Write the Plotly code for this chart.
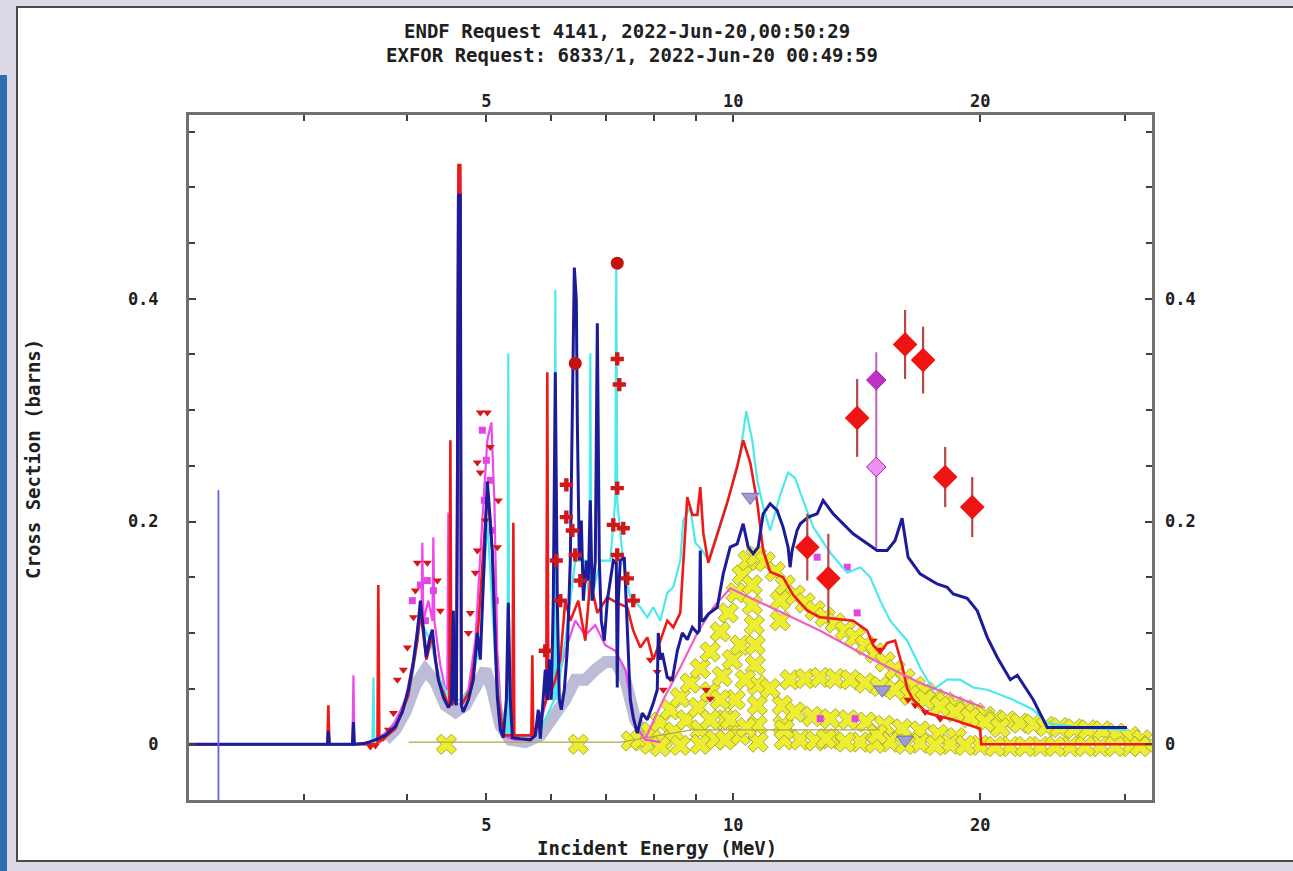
import math
import plotly.graph_objects as go

# ---------------- data (energy in MeV, cross section in barns) ----------------
NAVY_E = [2.17, 2.97, 3.200, 3.209, 3.218, 3.433, 3.443, 3.452, 3.560, 3.662, 3.766, 3.873, 3.950, 4.017,
          4.074, 4.120, 4.155, 4.190, 4.225, 4.261, 4.297, 4.333, 4.370, 4.432, 4.494, 4.532, 4.558, 4.571,
          4.597, 4.610, 4.623, 4.648, 4.661, 4.687, 4.754, 4.821, 4.875, 4.916, 4.972, 5.014, 5.056, 5.085,
          5.128, 5.157, 5.200, 5.244, 5.289, 5.318, 5.348, 5.379, 5.500, 5.657, 5.737, 5.785, 5.818, 5.867,
          5.900, 5.933, 5.967, 6.000, 6.034, 6.068, 6.102, 6.137, 6.171, 6.224, 6.276, 6.329, 6.365, 6.401,
          6.437, 6.455, 6.491, 6.528, 6.565, 6.620, 6.657, 6.695, 6.732, 6.789, 6.828, 6.866, 6.905, 6.963,
          7.022, 7.081, 7.141, 7.201, 7.221, 7.242, 7.282, 7.365, 7.427, 7.490, 7.553, 7.638, 7.746, 7.856,
          7.989, 8.079, 8.102, 8.148, 8.194, 8.310, 8.427, 8.547, 8.668, 8.790, 8.915, 9.041, 9.092, 9.116,
          9.142, 9.193, 9.323, 9.561, 9.723, 9.915, 10.111, 10.282, 10.428, 10.575, 10.724, 10.876, 11.091,
          11.310, 11.502, 11.665, 11.730, 11.796, 11.963, 12.070, 12.342, 12.656, 12.870, 13.237, 14.002,
          14.564, 14.978, 15.403, 15.752, 16.064, 16.337, 16.897, 17.726, 18.234, 18.543, 19.286, 19.837,
          20.404, 20.988, 21.768, 22.199, 23.216, 24.145, 30.200]
NAVY_XS = [0, 0, 0, 0.012, 0, 0, 0.020, 0, 0.001, 0.004, 0.008, 0.016, 0.029, 0.049,
           0.074, 0.101, 0.129, 0.104, 0.078, 0.094, 0.103, 0.076, 0.058, 0.042, 0.033, 0.038, 0.120, 0.040,
           0.035, 0.226, 0.493, 0.493, 0.035, 0.029, 0.040, 0.058, 0.100, 0.076, 0.165, 0.236, 0.201, 0.172,
           0.087, 0.042, 0.013, 0.006, 0.040, 0.127, 0.040, 0.006, 0.005, 0.004, 0.008, 0.031, 0.005, 0.040,
           0.067, 0.040, 0.076, 0.040, 0.129, 0.334, 0.129, 0.040, 0.031, 0.049, 0.085, 0.165, 0.291, 0.428,
           0.399, 0.291, 0.165, 0.201, 0.129, 0.165, 0.147, 0.219, 0.129, 0.165, 0.378, 0.165, 0.111, 0.093,
           0.129, 0.147, 0.165, 0.163, 0.051, 0.129, 0.165, 0.168, 0.111, 0.040, 0.024, 0.010, 0.028, 0.022,
           0.037, 0.049, 0.100, 0.076, 0.082, 0.060, 0.058, 0.084, 0.100, 0.094, 0.105, 0.100, 0.102, 0.174,
           0.111, 0.111, 0.117, 0.123, 0.153, 0.177, 0.180, 0.198, 0.177, 0.171, 0.177, 0.207, 0.216,
           0.210, 0.195, 0.177, 0.159, 0.174, 0.192, 0.198, 0.204, 0.207, 0.219, 0.207, 0.189,
           0.180, 0.174, 0.174, 0.183, 0.203, 0.168, 0.153, 0.144, 0.141, 0.135, 0.131, 0.120,
           0.096, 0.078, 0.058, 0.062, 0.040, 0.015, 0.015]

RED_E = [2.17, 3.200, 3.209, 3.218, 3.683, 3.692, 3.703, 3.873, 4.017, 4.120, 4.155, 4.225, 4.297, 4.370,
         4.494, 4.507, 4.520, 4.532, 4.597, 4.623, 4.648, 4.661, 4.780, 4.875, 5.014, 5.085, 5.157, 5.244,
         5.379, 5.394, 5.409, 5.673, 5.689, 5.705, 5.917, 5.933, 5.950, 6.068, 6.154, 6.241, 6.329, 6.473,
         6.601, 6.695, 6.828, 7.022, 7.221, 7.427, 7.553, 7.703, 7.856, 7.989, 8.148, 8.310, 8.451, 8.618,
         8.790, 8.915, 9.041, 9.116, 9.193, 9.323, 9.455, 9.833, 10.111, 10.282, 10.489, 10.697, 10.876,
         11.091, 11.502, 11.834, 12.31, 12.766, 14.002, 14.564, 14.812, 15.106, 15.403, 15.752, 16.064,
         16.296, 16.573, 17.237, 18.543, 20.00, 20.06, 32.4]
RED_XS = [0, 0, 0.035, 0, 0, 0.143, 0.002, 0.014, 0.044, 0.093, 0.120, 0.076, 0.098, 0.058,
          0.035, 0.035, 0.273, 0.035, 0.040, 0.520, 0.520, 0.035, 0.049, 0.093, 0.228, 0.174, 0.049, 0.008,
          0.008, 0.199, 0.008, 0.008, 0.080, 0.008, 0.040, 0.334, 0.040, 0.058, 0.076, 0.129, 0.111, 0.129,
          0.093, 0.147, 0.118, 0.132, 0.127, 0.123, 0.102, 0.087, 0.096, 0.076, 0.093, 0.111, 0.105, 0.118,
          0.222, 0.206, 0.206, 0.231, 0.190, 0.163, 0.177, 0.217, 0.249, 0.273, 0.253, 0.217, 0.174,
          0.155, 0.150, 0.134, 0.120, 0.114, 0.111, 0.102, 0.089, 0.082, 0.091, 0.093, 0.071,
          0.050, 0.040, 0.028, 0.022, 0.014, 0, 0]

CYAN_E = [2.17, 3.631, 3.642, 3.652, 3.873, 4.040, 4.155, 4.273, 4.394, 4.520, 4.648, 4.780, 4.916, 5.014,
          5.128, 5.244, 5.304, 5.318, 5.333, 5.500, 5.818, 6.051, 6.068, 6.085, 6.241, 6.418, 6.601, 6.676,
          6.695, 6.714, 6.885, 7.081, 7.181, 7.201, 7.221, 7.344, 7.490, 7.703, 7.856, 7.989, 8.148, 8.310,
          8.451, 8.618, 8.691, 8.863, 8.989, 9.168, 9.323, 9.561, 9.915, 10.199, 10.372, 10.548, 10.697,
          10.876, 11.091, 11.410, 11.665, 11.900, 12.070, 12.518, 13.129, 13.771, 14.283, 14.689, 15.106,
          15.537, 16.296, 16.897, 17.529, 18.231, 18.909, 19.611, 20.404, 21.940, 23.216, 24.145, 26.48,
          30.200]
CYAN_XS = [0, 0, 0.060, 0, 0.014, 0.049, 0.111, 0.093, 0.058, 0.040, 0.040, 0.049, 0.093, 0.201,
           0.076, 0.008, 0.008, 0.351, 0.008, 0.005, 0.013, 0.040, 0.408, 0.040, 0.093, 0.165, 0.165, 0.129,
           0.351, 0.129, 0.165, 0.165, 0.219, 0.429, 0.219, 0.163, 0.132, 0.123, 0.114, 0.123, 0.111, 0.136,
           0.141, 0.165, 0.201, 0.213, 0.181, 0.174, 0.165, 0.190, 0.226, 0.262, 0.299, 0.273, 0.237,
           0.213, 0.192, 0.224, 0.244, 0.239, 0.226, 0.195, 0.172, 0.154, 0.159, 0.150, 0.129,
           0.111, 0.093, 0.069, 0.049, 0.058, 0.058, 0.051, 0.049, 0.040, 0.031, 0.019, 0.015,
           0.013]

VIOLET_E = [2.17, 3.433, 3.443, 3.452, 3.611, 3.766, 3.873, 3.984, 4.074, 4.131, 4.167, 4.178, 4.190, 4.249,
            4.297, 4.309, 4.321, 4.394, 4.457, 4.481, 4.494, 4.507, 4.597, 4.623, 4.648, 4.661, 4.754, 4.848,
            4.944, 5.014, 5.071, 5.114, 5.157, 5.230, 5.424, 5.657, 5.818, 5.917, 5.933, 5.950, 6.068, 6.241,
            6.418, 6.601, 6.789, 6.983, 7.181, 7.386, 7.596, 7.812, 8.148]
VIOLET_XS = [0, 0, 0.062, 0, 0.002, 0.010, 0.020, 0.040, 0.076, 0.111, 0.111, 0.181, 0.111, 0.129,
             0.111, 0.186, 0.111, 0.071, 0.049, 0.049, 0.208, 0.049, 0.044, 0.509, 0.509, 0.040, 0.049, 0.093,
             0.201, 0.273, 0.289, 0.219, 0.084, 0.008, 0.004, 0.005, 0.017, 0.040, 0.264, 0.040, 0.049, 0.084,
             0.111, 0.098, 0.107, 0.089, 0.084, 0.067, 0.017, 0.004, 0.002]

PINK_E = [7.812, 8.217, 8.618, 9.041, 9.455, 9.915, 11.410, 12.766, 14.812, 16.897, 20.17]
PINK_XS = [0.005, 0.040, 0.069, 0.100, 0.123, 0.140, 0.119, 0.102, 0.076, 0.055, 0.033]

GRAY_E = [3.766, 3.873, 3.984, 4.097, 4.214, 4.333, 4.457, 4.584, 4.714, 4.848, 4.986, 5.085, 5.200, 5.348,
          5.578, 5.818, 6.068, 6.241, 6.418, 6.601, 6.789, 6.983, 7.181, 7.386, 7.596, 7.812]
GRAY_XS = [0.004, 0.013, 0.029, 0.053, 0.067, 0.056, 0.035, 0.029, 0.035, 0.049, 0.067, 0.049, 0.017, 0.004,
           0.002, 0.008, 0.026, 0.040, 0.058, 0.058, 0.067, 0.074, 0.074, 0.058, 0.022, 0.008]

OLIVE_E = [4.02, 7.3, 8.9, 15.1]
OLIVE_XS = [0.002, 0.002, 0.013, 0.013]

YELLOW_E = [4.469, 6.473, 7.511,
            7.703, 7.923, 8.148, 8.380, 8.618, 8.863, 9.116, 9.375, 9.642, 9.860, 10.084, 10.255, 10.428,
            7.923, 8.194, 8.474, 8.764, 9.065, 9.375, 9.697, 9.972, 10.199,
            10.667, 10.940,
            11.252, 11.572, 11.900, 12.239, 12.588, 12.946, 13.314, 13.694, 14.08, 14.484, 14.897, 15.320,
            15.752, 16.20, 16.666, 17.14, 17.627, 18.13, 18.647, 19.177, 19.72, 20.28, 20.86, 21.58, 22.38,
            23.22, 24.07, 25.03, 26.04, 27.08, 28.17, 29.30, 30.47, 31.51,
            10.548, 10.548, 10.608, 10.637, 10.637, 10.697, 10.697, 10.697, 10.724,
            11.410, 11.410, 11.474, 11.502, 11.538,
            11.091, 11.730, 12.239, 12.766, 13.314, 13.89, 14.484, 15.106, 15.752, 16.43, 17.14, 17.88,
            18.647, 19.45, 20.28, 21.16,
            11.900, 12.48, 13.13, 13.81, 14.52, 15.28, 16.064, 16.897, 17.78, 18.70,
            12.07, 13.13, 14.283, 15.537, 16.897, 18.39, 20.0, 21.76, 23.67, 25.75, 28.01, 30.47, 32.23,
            12.588, 13.694, 14.897, 16.20, 17.627, 19.177, 20.86, 22.69, 24.69, 26.86, 29.21, 31.33,
            12.98, 14.978, 9.116, 9.507, 9.777, 10.056, 10.343, 9.642, 9.915, 10.199, 9.375, 9.777, 8.148,
            8.618, 9.116, 10.372, 11.538]
YELLOW_XS = [0, 0, 0.003,
             0.004, 0.011, 0.020, 0.031, 0.042, 0.055, 0.068, 0.083, 0.101, 0.118, 0.136, 0.152, 0.165,
             0, 0.004, 0.011, 0.022, 0.033, 0.047, 0.061, 0.076, 0.089,
             0.169, 0.164,
             0.155, 0.143, 0.134, 0.127, 0.120, 0.114, 0.109, 0.102, 0.096, 0.089, 0.082, 0.074,
             0.067, 0.059, 0.052, 0.047, 0.041, 0.038, 0.034, 0.031, 0.028, 0.025, 0.022, 0.021, 0.019,
             0.018, 0.016, 0.015, 0.014, 0.013, 0.012, 0.010, 0.007, 0.004,
             0.143, 0.125, 0.107, 0.089, 0.071, 0.053, 0.035, 0.017, 0.002,
             0.129, 0.111, 0.035, 0.017, 0.004,
             0.050, 0.058, 0.059, 0.060, 0.059, 0.058, 0.055, 0.052, 0.049, 0.044, 0.040, 0.034,
             0.029, 0.024, 0.020, 0.015,
             0.029, 0.025, 0.023, 0.022, 0.020, 0.017, 0.014, 0.012, 0.009, 0.006,
             0.004, 0.005, 0.002, 0.002, 0.001, 0, -0.001, -0.002, -0.002, -0.002, -0.002, -0.002, -0.001,
             0.003, 0.002, 0.001, 0.0, -0.001, -0.001, -0.002, -0.002, -0.002, -0.002, -0.002, -0.002,
             0.005, 0.009, 0.013, 0.004, 0.022, 0.040, 0.058, 0.040, 0.022, 0.008, 0.022, 0.004, -0.002,
             -0.001, 0, 0.015, 0.013]

REDPT_E = [3.611, 3.662, 3.745, 3.798, 3.852, 3.895, 3.961, 4.006, 4.074, 4.097, 4.120, 4.237, 4.358, 4.394,
           4.754, 4.780, 4.848, 4.875, 4.875, 4.916, 4.916, 5.014, 5.056, 5.157, 5.171, 4.986,
           7.923, 8.079, 8.217, 8.380, 9.270, 9.375, 14.812, 15.106, 16.337, 16.666, 17.14, 17.88]
REDPT_XS = [-0.002, -0.001, 0.006, 0.013, 0.028, 0.058, 0.067, 0.087, 0.114, 0.138, 0.163, 0.163, 0.147, 0.120,
            0.100, 0.118, 0.154, 0.174, 0.253, 0.244, 0.298, 0.298, 0.267, 0.177, 0.219, 0.201,
            0.076, 0.065, 0.049, 0.059, 0.049, 0.041, 0.093, 0.085, 0.040, 0.035, 0.029, 0.023]

REDCROSS_E = [7.221, 7.262, 7.221, 7.141, 7.344, 7.221, 7.427, 7.553, 6.259, 6.259, 6.365, 6.418, 6.510,
              6.085, 6.154, 5.900]
REDCROSS_XS = [0.346, 0.323, 0.230, 0.197, 0.194, 0.170, 0.149, 0.129, 0.233, 0.204, 0.192, 0.170, 0.147,
               0.165, 0.129, 0.084]

REDCIRC_E = [6.418, 7.221]
REDCIRC_XS = [0.342, 0.432]

VIOPT_E = [4.062, 4.155, 4.237, 4.309, 4.214, 4.944, 5.000, 5.056, 4.972, 5.085, 5.128,
           12.656, 13.771, 14.16, 12.766, 14.08]
VIOPT_XS = [0.129, 0.143, 0.147, 0.138, 0.111, 0.282, 0.255, 0.237, 0.219, 0.192, 0.129,
            0.168, 0.159, 0.118, 0.023, 0.023]

DIAM_E = [12.31, 13.06, 14.16, 16.20, 17.04, 18.13, 19.56]
DIAM_XS = [0.177, 0.149, 0.293, 0.359, 0.345, 0.240, 0.213]
DIAM_ERR = [0.030, 0.040, 0.035, 0.031, 0.030, 0.027, 0.027]

MDIAM_E = [14.94, 14.94]
MDIAM_XS = [0.327, 0.249]
MDIAM_ERR_P = [0.025, 0.070]
MDIAM_ERR_M = [0.010, 0.073]

TRI_E = [10.489, 15.19, 16.20]
TRI_XS = [0.222, 0.049, 0.004]

THRESH_E = 2.357
THRESH_TOP = 0.228

X_RANGE_E = [2.17, 32.4]
Y_RANGE = [-0.05, 0.565]
X_TICKS = [5, 10, 20]
X_MINOR = [3, 4, 6, 7, 8, 9, 30]
Y_TICKS = [0, 0.2, 0.4]
Y_TICKTEXT = ["0", "0.2", "0.4"]
Y_MINOR = [0.05, 0.1, 0.15, 0.25, 0.3, 0.35, 0.45, 0.5, 0.55]

TITLE_1 = "ENDF Request 4141, 2022-Jun-20,00:50:29"
TITLE_2 = "EXFOR Request: 6833/1, 2022-Jun-20 00:49:59"
X_TITLE = "Incident Energy (MeV)"
Y_TITLE = "Cross Section (barns)"

# ---------------- figure ----------------
FONT = "DejaVu Sans Mono"
fig = go.Figure()


def line(x, y, color, width, axes=("x", "y"), **kw):
    fig.add_trace(go.Scatter(x=x, y=y, mode="lines", line=dict(color=color, width=width),
                             xaxis=axes[0], yaxis=axes[1], hoverinfo="skip", **kw))


def pts(x, y, symbol, size, color, lcolor=None, lwidth=0, axes=("x", "y"), **kw):
    fig.add_trace(go.Scatter(x=x, y=y, mode="markers",
                             marker=dict(symbol=symbol, size=size, color=color,
                                         line=dict(color=lcolor or color, width=lwidth)),
                             xaxis=axes[0], yaxis=axes[1], hoverinfo="skip", **kw))


line(GRAY_E, GRAY_XS, "#bcbcd6", 12)
pts(YELLOW_E, YELLOW_XS, "x", 18, "#eeee30", "#a8a83c", 1)
line(OLIVE_E, OLIVE_XS, "#a8a84a", 1.2)
line(VIOLET_E, VIOLET_XS, "#ee48ee", 2.2)
pts(VIOPT_E, VIOPT_XS, "square", 7, "#e444e4")
line(CYAN_E, CYAN_XS, "#4ceaea", 2.2)
pts(REDPT_E, REDPT_XS, "triangle-down", 8, "#d81616")
line(RED_E, RED_XS, "#ee1a1a", 2.6)
line(PINK_E, PINK_XS, "#f060c0", 2.2)

top = ("x2", "y2")
line(NAVY_E, NAVY_XS, "#1c1c98", 3, axes=top)
pts(REDCROSS_E, REDCROSS_XS, "cross", 11, "#d01818", axes=top)
pts(REDCIRC_E, REDCIRC_XS, "circle", 13, "#c81010", axes=top)
pts(TRI_E, TRI_XS, "triangle-down", 15, "#9c9cd8", "#7070b0", 1, axes=top)
pts(DIAM_E, DIAM_XS, "diamond", 19, "#ee1414", axes=top,
    error_y=dict(type="data", array=DIAM_ERR, color="#b84848", thickness=2.2, width=0))
pts(MDIAM_E, MDIAM_XS, "diamond", 15, ["#c030c8", "#f090f0"], "#a020a8", 1, axes=top,
    error_y=dict(type="data", symmetric=False, array=MDIAM_ERR_P, arrayminus=MDIAM_ERR_M,
                 color="#c060c0", thickness=2, width=0))
line([THRESH_E, THRESH_E], [Y_RANGE[0], THRESH_TOP], "#6464e0", 1.8, axes=top)

xr = [math.log10(X_RANGE_E[0]), math.log10(X_RANGE_E[1])]
tickfont = dict(family=FONT, size=17, color="#202020", weight="bold")
axis_common = dict(showgrid=False, zeroline=False)

fig.update_layout(
    width=1293, height=871, autosize=False,
    margin=dict(l=189, r=141, t=115, b=71),
    paper_bgcolor="#dcdae6", plot_bgcolor="white",
    showlegend=False,
    xaxis=dict(type="log", range=xr, tickmode="array", tickvals=X_TICKS,
               ticktext=[str(v) for v in X_TICKS], ticks="inside", ticklen=7, tickwidth=1.5,
               tickcolor="#404040", showline=True, linecolor="#707070", linewidth=3, mirror="ticks",
               tickfont=tickfont, ticklabelstandoff=8,
               minor=dict(tickmode="array", tickvals=X_MINOR, ticks="inside", ticklen=6,
                          tickwidth=1.5, tickcolor="#404040"),
               **axis_common),
    xaxis2=dict(type="log", range=xr, matches="x", overlaying="x", side="top", tickmode="array",
                tickvals=X_TICKS, ticktext=[str(v) for v in X_TICKS], ticks="", showline=False,
                tickfont=tickfont, ticklabelstandoff=4, **axis_common),
    yaxis=dict(range=Y_RANGE, tickmode="array", tickvals=Y_TICKS, ticktext=Y_TICKTEXT,
               ticks="inside", ticklen=7, tickwidth=1.5, tickcolor="#404040", showline=True,
               linecolor="#707070", linewidth=3, mirror="ticks", tickfont=tickfont,
               ticklabelstandoff=24,
               minor=dict(tickmode="array", tickvals=Y_MINOR, ticks="inside", ticklen=6,
                          tickwidth=1.5, tickcolor="#404040"),
               **axis_common),
    yaxis2=dict(range=Y_RANGE, matches="y", overlaying="y", side="right", tickmode="array",
                tickvals=Y_TICKS, ticktext=Y_TICKTEXT, ticks="", showline=False,
                tickfont=tickfont, ticklabelstandoff=12, **axis_common),
)

# page frame (paper coordinates)
W, H = 963.0, 685.0


def px(x):
    return (x - 189) / W


def py(y):
    return (800 - y) / H


fig.add_shape(type="rect", xref="paper", yref="paper", x0=px(17), x1=px(1310), y0=py(861), y1=py(7),
              fillcolor="white", line=dict(color="#4a4a4a", width=2), layer="below")
fig.add_shape(type="rect", xref="paper", yref="paper", x0=px(-2), x1=px(7), y0=py(875), y1=py(75),
              fillcolor="#2f6db4", line=dict(width=0), layer="below")

title_font = dict(family=FONT, size=19, color="#202020", weight="bold")
fig.add_annotation(text=TITLE_1, xref="paper", yref="paper", x=px(627), y=py(31), showarrow=False,
                   font=title_font, xanchor="center", yanchor="middle")
fig.add_annotation(text=TITLE_2, xref="paper", yref="paper", x=px(632), y=py(55), showarrow=False,
                   font=title_font, xanchor="center", yanchor="middle")
fig.add_annotation(text=X_TITLE, xref="paper", yref="paper", x=px(657), y=py(848), showarrow=False,
                   font=dict(family=FONT, size=19, color="#202020", weight="bold"),
                   xanchor="center", yanchor="middle")
fig.add_annotation(text=Y_TITLE, xref="paper", yref="paper", x=px(33), y=py(459), showarrow=False,
                   textangle=-90, font=dict(family=FONT, size=19, color="#202020", weight="bold"),
                   xanchor="center", yanchor="middle")

fig.write_html("out.html")
